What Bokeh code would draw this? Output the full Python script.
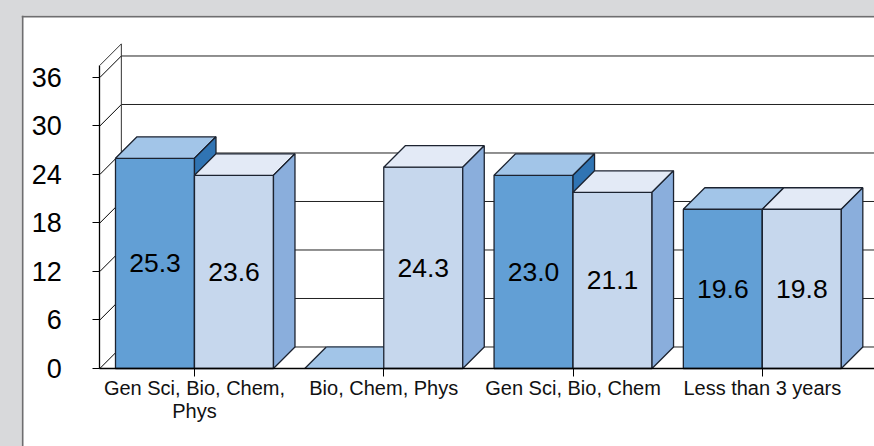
from bokeh.plotting import figure
from bokeh.models import Range1d, FixedTicker, Span, GlobalInlineStyleSheet
from bokeh.core.properties import value
from bokeh.embed import file_html
from bokeh.resources import INLINE

categories = ["Gen Sci, Bio, Chem,\nPhys", "Bio, Chem, Phys", "Gen Sci, Bio, Chem", "Less than 3 years"]
series_a_height = [26.0, 0.0, 23.9, 19.7]
series_b_height = [23.9, 24.9, 21.8, 19.7]
series_a_labels = ["25.3", "", "23.0", "19.6"]
series_b_labels = ["23.6", "24.3", "21.1", "19.8"]
y_ticks = [0, 6, 12, 18, 24, 30, 36]

FONT = "Liberation Sans"
BAR_W = 0.4173
DX = 0.1136
DY = 2.66
WALL_X = -0.5
WALL_TOP = 37.5
XMAX = 3.6
EDGE = "#1c2330"
A = ("#629fd5", "#a2c5e8", "#3074b3")
B = ("#c6d7ed", "#e3eaf6", "#8aaedc")

p = figure(width=874, height=446, output_backend="svg", toolbar_location=None, tools="",
           x_range=Range1d(-0.9139, 3.5926), y_range=Range1d(-9.65, 43.67),
           min_border_left=21, min_border_top=15, min_border_right=0, min_border_bottom=0,
           border_fill_color="#d8d9db", background_fill_color="white", outline_line_color=None)
p.stylesheets.append(GlobalInlineStyleSheet(css="html,body{background:#d8d9db;overflow:hidden}"))
p.grid.visible = False

# panel border
p.add_layout(Span(location=-0.9086, dimension="height", line_color="#6e6e70", line_width=2))
p.add_layout(Span(location=43.55, dimension="width", line_color="#6e6e70", line_width=2))

# walls and gridlines
bx = WALL_X + DX
p.segment([WALL_X] * len(y_ticks), y_ticks, [bx] * len(y_ticks), [t + DY for t in y_ticks],
          line_color="black", line_width=1)
p.segment([bx] * (len(y_ticks)), [t + DY for t in y_ticks], [XMAX] * len(y_ticks), [t + DY for t in y_ticks],
          line_color="#222222", line_width=1)
p.line([WALL_X, bx, bx], [WALL_TOP, WALL_TOP + DY, DY], line_color="#333333", line_width=1)

def box(x0, h, cols):
    x1 = x0 + BAR_W
    p.quad(left=[x0], right=[x1], bottom=[0], top=[h], fill_color=cols[0], line_color=EDGE, line_width=1.3)
    p.patch([x0, x0 + DX, x1 + DX, x1], [h, h + DY, h + DY, h], fill_color=cols[1], line_color=EDGE, line_width=1.3)
    p.patch([x1, x1 + DX, x1 + DX, x1], [0, DY, h + DY, h], fill_color=cols[2], line_color=EDGE, line_width=1.3)

def flat(x0, cols):
    x1 = x0 + BAR_W
    p.patch([x0, x0 + DX, x1 + DX, x1], [0, DY, DY, 0], fill_color=cols[1], line_color=cols[1], line_width=1)
    p.line([x0, x0 + DX], [0, DY], line_color=EDGE, line_width=1.3)
    p.line([x0 + DX, x1 + DX], [DY, DY], line_color=EDGE, line_width=1)

for i in range(len(categories)):
    xa = i - BAR_W
    if series_a_height[i] > 0:
        box(xa, series_a_height[i], A)
    else:
        flat(xa, A)
    box(i, series_b_height[i], B)

# value labels
label_x = [i - BAR_W / 2 for i in range(len(categories)) if series_a_labels[i]] + \
          [i + BAR_W / 2 for i in range(len(categories))]
label_y = [series_a_height[i] / 2 for i in range(len(categories)) if series_a_labels[i]] + \
          [h / 2 for h in series_b_height]
label_t = [s for s in series_a_labels if s] + series_b_labels
p.text(label_x, label_y, text=label_t, text_font=value(FONT), text_font_size="26.5px",
       text_align="center", text_baseline="middle", text_color="black")

# axes
ya = p.yaxis[0]
ya.fixed_location = WALL_X
ya.bounds = (0, WALL_TOP)
ya.ticker = FixedTicker(ticks=y_ticks)
ya.major_tick_out = 7
ya.major_tick_in = 0
ya.minor_tick_line_color = None
ya.major_label_standoff = 31
ya.major_label_text_font = FONT
ya.major_label_text_font_size = "27px"
ya.major_label_text_color = "black"
ya.axis_line_color = "black"
ya.major_tick_line_color = "black"
ya.axis_line_width = 1.3

xa_ = p.xaxis[0]
xa_.fixed_location = 0
xa_.bounds = (WALL_X, XMAX)
xa_.ticker = FixedTicker(ticks=list(range(len(categories))))
xa_.major_label_overrides = {i: c for i, c in enumerate(categories)}
xa_.major_tick_out = 8
xa_.major_tick_in = 0
xa_.minor_tick_line_color = None
xa_.major_label_standoff = 1
xa_.major_label_text_font = FONT
xa_.major_label_text_font_size = "20px"
xa_.major_label_text_color = "#111111"
xa_.major_label_text_line_height = 1.03
xa_.axis_line_color = "black"
xa_.major_tick_line_color = "black"
xa_.axis_line_width = 1.5

open("out.html", "w").write(file_html(p, INLINE))
